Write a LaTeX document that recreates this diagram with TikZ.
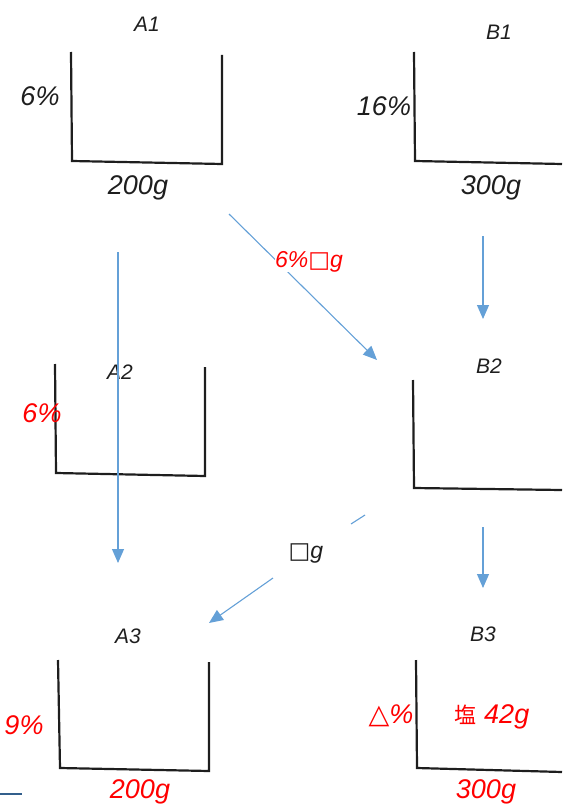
\documentclass[tikz,border=0pt]{standalone}
\usepackage{fontspec}
\setmainfont{Liberation Sans}
\newfontfamily\symfont{DejaVu Sans}
\newfontfamily\cjkfont{Noto Sans CJK JP}
\usetikzlibrary{arrows.meta}
\definecolor{arrblue}{RGB}{100,160,215}
\definecolor{hand}{RGB}{30,30,30}
\definecolor{barblue}{RGB}{50,95,140}
\tikzset{
  wall/.style={draw=hand,line width=2.2pt,line join=miter},
  flow/.style={draw=arrblue,line width=1.1pt,-{Triangle[length=14pt,width=12pt]}},
  flowplain/.style={draw=arrblue,line width=1.1pt},
  tag/.style={font=\itshape\fontsize{21}{21}\selectfont,text=hand,inner sep=1pt},
  num/.style={font=\itshape\fontsize{27}{27}\selectfont,text=hand,inner sep=1pt},
  rednum/.style={num,text=red},
}
\begin{document}
\begin{tikzpicture}[x=1pt,y=-1pt]
\useasboundingbox (0,0) rectangle (562,805);
% A1
\draw[wall] (71,52) -- (72,161) -- (222,164) -- (222,55);
\node[tag] (a1) at (147,24) {A1};
\node[num] (a1p) at (40,96) {6\%};
\node[num] (a1m) at (138,188) {200\textit{g}};
% B1
\draw[wall] (414,52) -- (415,161) -- (562,164);
\node[tag] (b1) at (499,32) {B1};
\node[num] (b1p) at (384,106) {16\%};
\node[num] (b1m) at (491,188) {300\textit{g}};
% A2
\draw[wall] (55,364) -- (56,473) -- (205,476) -- (205,367);
\node[tag] (a2) at (120,372) {A2};
\node[rednum] (a2p) at (42,413) {6\%};
% B2
\draw[wall] (413,380) -- (414,488) -- (562,490);
\node[tag] (b2) at (489,366) {B2};
% A3
\draw[wall] (58,660) -- (60,768) -- (209,771) -- (209,662);
\node[tag] (a3) at (128,636) {A3};
\node[rednum] (a3p) at (24,725) {9\%};
\node[rednum] (a3m) at (140,792) {200\textit{g}};
% B3
\draw[wall] (416,660) -- (417,768) -- (562,772);
\node[tag] (b3) at (483,634) {B3};
\node[rednum] (b3p) at (391,716) {{\symfont △}\%};
\node[rednum] (b3s) at (492,717) {{\cjkfont\upshape\fontsize{22}{22}\selectfont 塩} 42\textit{g}};
\node[rednum] (b3m) at (486,792) {300\textit{g}};
% arrows
\coordinate (s1) at (229,214);
\coordinate (e1) at (377,360);
\draw[flow] (s1) -- (e1);
\node[rednum,fill=white,font=\itshape\fontsize{23}{23}\selectfont,inner sep=0pt] (l1) at (309,262) {6\%{\symfont\upshape □}\textit{g}};
\coordinate (s2) at (118,252);
\coordinate (e2) at (118,563);
\draw[flow] (s2) -- (e2);
\coordinate (s3) at (483,236);
\coordinate (e3) at (483,319);
\draw[flow] (s3) -- (e3);
\coordinate (s4) at (483,527);
\coordinate (e4) at (483,588);
\draw[flow] (s4) -- (e4);
\coordinate (s5) at (365,515);
\coordinate (g5a) at (351,524);
\coordinate (g5b) at (273,578);
\coordinate (e5) at (209,623);
\draw[flowplain] (s5) -- (g5a);
\draw[flow] (g5b) -- (e5);
\node[num,font=\itshape\fontsize{23}{23}\selectfont] (l2) at (306,553) {{\symfont\upshape □}\textit{g}};
% bottom-left bar
\coordinate (bl0) at (0,794);
\coordinate (bl1) at (22,794);
\draw[draw=barblue,line width=1.5pt] (bl0) -- (bl1);
\end{tikzpicture}
\end{document}
